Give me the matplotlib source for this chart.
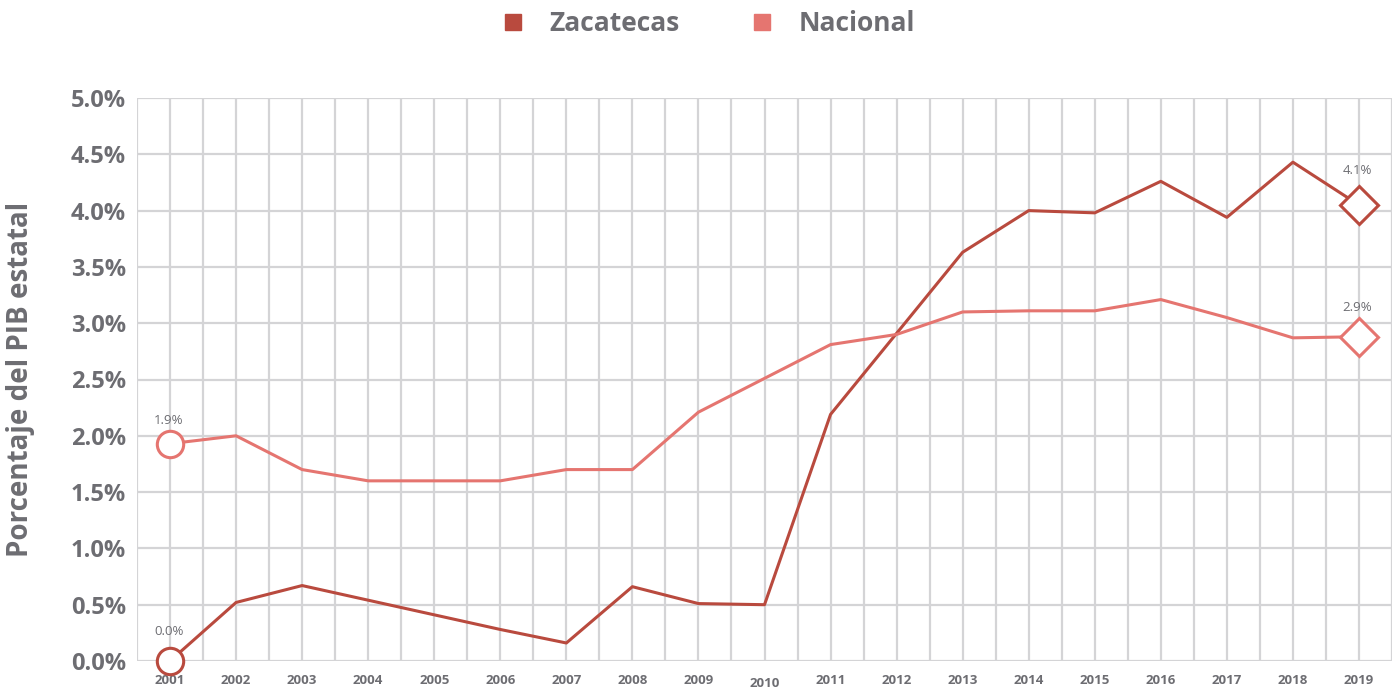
import numpy as np
import matplotlib
matplotlib.use("Agg")
import matplotlib.pyplot as plt
from matplotlib.transforms import ScaledTranslation

plt.rcParams['font.family'] = ['Open Sans', 'DejaVu Sans']

years = list(range(2001, 2020))
zacatecas = [0.0, 0.52, 0.67, 0.54, 0.41, 0.28, 0.16, 0.66, 0.51, 0.50,
             2.19, 2.91, 3.63, 4.00, 3.98, 4.26, 3.94, 4.43, 4.05]
nacional = [1.93, 2.00, 1.70, 1.60, 1.60, 1.60, 1.70, 1.70, 2.21, 2.51,
            2.81, 2.90, 3.10, 3.11, 3.11, 3.21, 3.05, 2.87, 2.88]
zac_labels = ['0.0%', '4.1%']
nac_labels = ['1.9%', '2.9%']
yticks = [0.0, 0.5, 1.0, 1.5, 2.0, 2.5, 3.0, 3.5, 4.0, 4.5, 5.0]

c_zac = '#b94a3e'
c_nac = '#e57570'
c_txt = '#6d6d72'
c_grid = '#d4d4d6'

fig = plt.figure(figsize=(13.92, 6.88), dpi=100)
ax = fig.add_axes([137/1392, 27/688, 1 - 137/1392, (661-98)/688])

ax.set_xlim(2000.5, 2019.5)
ax.set_ylim(0, 5.0)
ax.set_xticks(years)
ax.set_xticks(np.arange(2000.5, 2019.6, 0.5), minor=True)
ax.set_yticks(yticks)
ax.set_yticklabels([f'{v:.1f}%' for v in yticks])
ax.grid(True, which='both', color=c_grid, lw=1.6)
ax.set_axisbelow(True)
for s in ax.spines.values():
    s.set_visible(False)
ax.tick_params(which='both', length=0)
ax.tick_params(axis='y', labelsize=17, labelcolor=c_txt, pad=8)
ax.tick_params(axis='x', labelsize=9.5, labelcolor=c_txt, pad=9)
for lab in ax.get_yticklabels():
    lab.set_fontweight('bold')
for i, lab in enumerate(ax.get_xticklabels()):
    lab.set_fontweight('bold')
    if years[i] == 2010:
        lab.set_transform(lab.get_transform() + ScaledTranslation(0, -2.5/72, fig.dpi_scale_trans))

series = [(zacatecas, zac_labels, c_zac, 'Zacatecas', (21, 25)),
          (nacional, nac_labels, c_nac, 'Nacional', (17, 21))]
for vals, labs, col, name, offs in series:
    ax.plot(years, vals, color=col, lw=2.2, zorder=3)
    ax.plot([years[0]], [vals[0]], 'o', ms=19, mfc='white', mec=col, mew=2.2, zorder=4, clip_on=False)
    ax.plot([years[-1]], [vals[-1]], 'D', ms=19, mfc='white', mec=col, mew=2.2, zorder=4, clip_on=False)
    ax.annotate(labs[0], (years[0], vals[0]), xytext=(-1, offs[0]), textcoords='offset points',
                ha='center', va='center', fontsize=9.5, color=c_txt)
    ax.annotate(labs[1], (years[-1], vals[-1]), xytext=(-1, offs[1]), textcoords='offset points',
                ha='center', va='center', fontsize=9.5, color=c_txt)
    ax.plot([], [], 's', color=col, ms=12, label=name)

ax.set_ylabel('Porcentaje del PIB estatal', fontsize=20, fontweight='bold', color=c_txt, labelpad=26)

fig.legend(loc='upper center', bbox_to_anchor=(0.508, 1.02), ncol=2, frameon=False,
           prop={'size': 19, 'weight': 'bold'}, labelcolor=c_txt, handletextpad=0.9,
           columnspacing=2.6, handlelength=1.0)

fig.savefig('out.png', dpi=100)
